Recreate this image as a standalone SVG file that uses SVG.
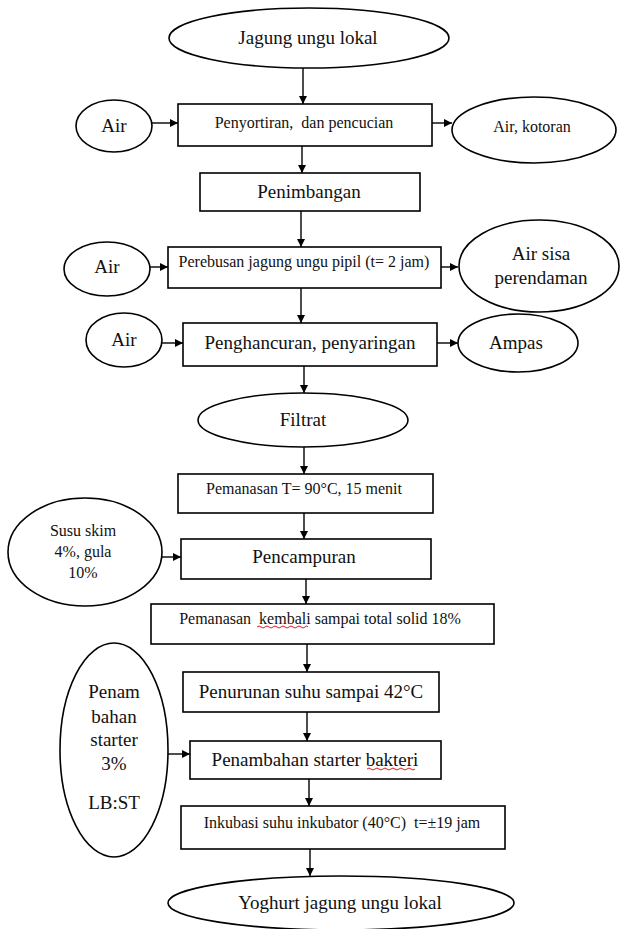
<svg xmlns="http://www.w3.org/2000/svg" width="620" height="929" viewBox="0 0 620 929">
<style>
.s{fill:#fff;stroke:#000;stroke-width:1.6}
.t{font-family:"Liberation Serif","Times New Roman",serif;fill:#111;text-anchor:middle;white-space:pre}
.l{font-size:19px}
.m{font-size:16px}
.c{fill:none;stroke:#000;stroke-width:1.4}
.sq{fill:none;stroke:#e02020;stroke-width:1}
</style>
<defs>
<marker id="ah" viewBox="0 0 10 10" refX="10" refY="5" markerWidth="8" markerHeight="8" markerUnits="userSpaceOnUse" orient="auto">
<path d="M0,0 L10,5 L0,10 z" fill="#000"/>
</marker>
</defs>
<rect width="620" height="929" fill="#fff"/>
<g id="connectors">
<line class="c" x1="303" y1="68" x2="303" y2="104" marker-end="url(#ah)"/>
<line class="c" x1="152" y1="123" x2="178" y2="123" marker-end="url(#ah)"/>
<line class="c" x1="432" y1="123" x2="452" y2="123" marker-end="url(#ah)"/>
<line class="c" x1="302" y1="146" x2="302" y2="173" marker-end="url(#ah)"/>
<line class="c" x1="301" y1="211" x2="301" y2="247" marker-end="url(#ah)"/>
<line class="c" x1="150" y1="267" x2="168" y2="267" marker-end="url(#ah)"/>
<line class="c" x1="441" y1="267" x2="458" y2="267" marker-end="url(#ah)"/>
<line class="c" x1="301" y1="288" x2="301" y2="323" marker-end="url(#ah)"/>
<line class="c" x1="162" y1="343" x2="183" y2="343" marker-end="url(#ah)"/>
<line class="c" x1="437" y1="343" x2="458" y2="343" marker-end="url(#ah)"/>
<line class="c" x1="304" y1="366" x2="304" y2="393" marker-end="url(#ah)"/>
<line class="c" x1="304" y1="447" x2="304" y2="474" marker-end="url(#ah)"/>
<line class="c" x1="304" y1="513" x2="304" y2="539" marker-end="url(#ah)"/>
<line class="c" x1="162" y1="557" x2="181" y2="557" marker-end="url(#ah)"/>
<line class="c" x1="306" y1="579" x2="306" y2="604" marker-end="url(#ah)"/>
<line class="c" x1="307" y1="644" x2="307" y2="672" marker-end="url(#ah)"/>
<line class="c" x1="307" y1="712" x2="307" y2="741" marker-end="url(#ah)"/>
<line class="c" x1="168" y1="754" x2="190" y2="754" marker-end="url(#ah)"/>
<line class="c" x1="309" y1="779" x2="309" y2="806" marker-end="url(#ah)"/>
<line class="c" x1="310" y1="849" x2="310" y2="876" marker-end="url(#ah)"/>
</g>
<g id="n-jagung"><ellipse class="s" cx="309" cy="38" rx="140" ry="30"/><text class="t l" x="308" y="44">Jagung ungu lokal</text></g>
<g id="n-air1"><ellipse class="s" cx="114" cy="126" rx="38" ry="26"/><text class="t l" x="114" y="132">Air</text></g>
<g id="n-sortir"><rect class="s" x="178" y="104" width="254" height="42"/><text class="t m" x="304" y="128" xml:space="preserve">Penyortiran,  dan pencucian</text></g>
<g id="n-kotoran"><ellipse class="s" cx="534" cy="130" rx="82" ry="33"/><text class="t m" x="532" y="132">Air, kotoran</text></g>
<g id="n-timbang"><rect class="s" x="200" y="173" width="220" height="38"/><text class="t l" x="309" y="198">Penimbangan</text></g>
<g id="n-air2"><ellipse class="s" cx="107" cy="269" rx="43" ry="27"/><text class="t l" x="107" y="273">Air</text></g>
<g id="n-rebus"><rect class="s" x="168" y="247" width="273" height="41"/><text class="t m" x="304" y="267">Perebusan jagung ungu pipil (t= 2 jam)</text></g>
<g id="n-sisa"><ellipse class="s" cx="539" cy="266" rx="80" ry="46"/><text class="t l" x="541" y="260">Air sisa</text><text class="t l" x="541" y="284">perendaman</text></g>
<g id="n-air3"><ellipse class="s" cx="124" cy="340" rx="38" ry="27"/><text class="t l" x="124" y="346">Air</text></g>
<g id="n-hancur"><rect class="s" x="183" y="323" width="254" height="43"/><text class="t l" x="310" y="349">Penghancuran, penyaringan</text></g>
<g id="n-ampas"><ellipse class="s" cx="518" cy="343" rx="60" ry="29"/><text class="t l" x="516" y="349">Ampas</text></g>
<g id="n-filtrat"><ellipse class="s" cx="303" cy="420" rx="105" ry="27"/><text class="t l" x="303" y="426">Filtrat</text></g>
<g id="n-panas"><rect class="s" x="178" y="474" width="255" height="39"/><text class="t m" x="304" y="494">Pemanasan T= 90°C, 15 menit</text></g>
<g id="n-susu"><ellipse class="s" cx="85" cy="552" rx="77" ry="54"/><text class="t m" x="83" y="536">Susu skim</text><text class="t m" x="83" y="557">4%, gula</text><text class="t m" x="83" y="578">10%</text></g>
<g id="n-campur"><rect class="s" x="181" y="539" width="250" height="40"/><text class="t l" x="304" y="563">Pencampuran</text></g>
<g id="n-kembali"><rect class="s" x="151" y="604" width="343" height="40"/><text class="t m" x="320" y="624" xml:space="preserve">Pemanasan  kembali sampai total solid 18%</text><path class="sq" d="M257,627 q2,-2 4,0 t4,0 t4,0 t4,0 t4,0 t4,0 t4,0 t4,0 t4,0 t4,0 t4,0 t4,0 t3,0"/></g>
<g id="n-turun"><rect class="s" x="183" y="672" width="256" height="40"/><text class="t l" x="311" y="698">Penurunan suhu sampai 42°C</text></g>
<g id="n-penam"><ellipse class="s" cx="114" cy="750" rx="54" ry="107"/><text class="t l" x="114" y="698">Penam</text><text class="t l" x="114" y="723">bahan</text><text class="t l" x="114" y="746">starter</text><text class="t l" x="114" y="770">3%</text><text class="t l" x="114" y="809">LB:ST</text></g>
<g id="n-starter"><rect class="s" x="190" y="741" width="251" height="38"/><text class="t l" x="315" y="766">Penambahan starter bakteri</text><path class="sq" d="M367,769 q2,-2 4,0 t4,0 t4,0 t4,0 t4,0 t4,0 t4,0 t4,0 t4,0 t4,0 t4,0 t4,0"/></g>
<g id="n-inkubasi"><rect class="s" x="181" y="806" width="324" height="43"/><text class="t m" x="342" y="828" xml:space="preserve">Inkubasi suhu inkubator (40°C)  t=±19 jam</text></g>
<g id="n-yoghurt"><ellipse class="s" cx="341" cy="903" rx="173" ry="27"/><text class="t l" x="340" y="909">Yoghurt jagung ungu lokal</text></g>
</svg>
